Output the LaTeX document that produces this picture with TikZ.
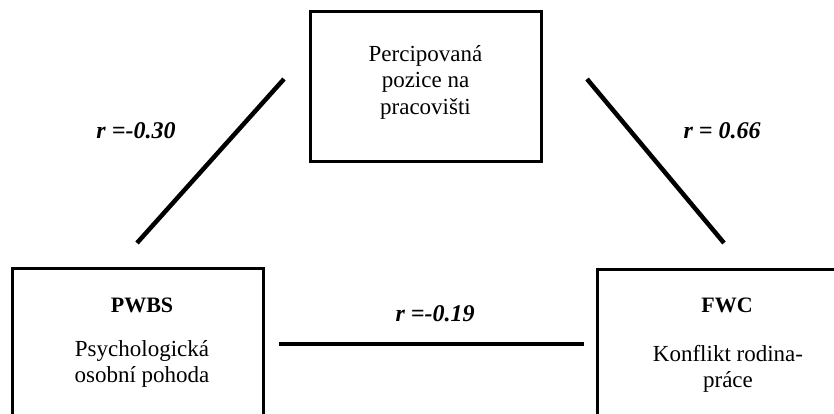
\documentclass[tikz,border=0pt]{standalone}
\usepackage{fontspec}
\setmainfont{Liberation Serif}
\begin{document}
\begin{tikzpicture}[x=1pt,y=-1pt,
  box/.style={draw=black,line width=3pt,inner sep=0pt,fill=white},
  txt/.style={align=center,inner sep=0pt,font=\fontsize{23}{26.5}\selectfont},
  ttl/.style={inner sep=0pt,font=\fontsize{22}{24}\selectfont\bfseries},
  rlab/.style={inner sep=0pt,font=\fontsize{24}{26}\selectfont\bfseries\itshape},
  link/.style={line width=4.5pt,line cap=butt}]
\useasboundingbox (0,0) rectangle (834,414);
\clip (0,0) rectangle (834,414);
\fill[white] (0,0) rectangle (834,414);
% boxes
\node[box,minimum width=231pt,minimum height=150pt] (top) at (425.5,87) {};
\node[box,minimum width=251pt,minimum height=190pt] (left) at (137.5,363) {};
\node[box,minimum width=260pt,minimum height=190pt] (right) at (727,364) {};
% texts
\node[txt] (toptxt) at (425.5,82) {Percipovaná\\pozice na\\pracovišti};
\node[ttl] (lt) at (142,305) {PWBS};
\node[txt] (ltxt) at (142,364) {Psychologická\\osobní pohoda};
\node[ttl] (rt) at (727,305) {FWC};
\node[txt] (rtxt) at (728,369) {Konflikt rodina-\\práce};
% connectors
\coordinate (a1) at (284,79);
\coordinate (a2) at (137,243);
\coordinate (b1) at (587,79);
\coordinate (b2) at (724,243);
\coordinate (c1) at (279,344);
\coordinate (c2) at (584,344);
\draw[link] (a1) -- (a2);
\draw[link] (b1) -- (b2);
\draw[link] (c1) -- (c2);
% labels
\node[rlab] (ra) at (136,131) {r =-0.30};
\node[rlab] (rb) at (722,131) {r = 0.66};
\node[rlab] (rc) at (435,314) {r =-0.19};
\end{tikzpicture}
\end{document}
